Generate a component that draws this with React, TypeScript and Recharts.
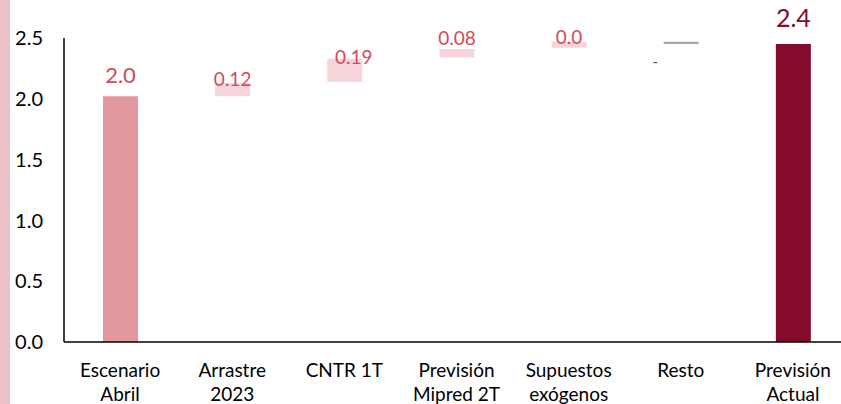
import React from "react"
import { Bar, BarChart, Cell, LabelList, XAxis, YAxis } from "recharts"

const categories = [
  "Escenario\nAbril",
  "Arrastre\n2023",
  "CNTR 1T",
  "Previsión\nMipred 2T",
  "Supuestos\nexógenos",
  "Resto",
  "Previsión\nActual"
]

// each bar floats from low to high (waterfall)
const lows = [0, 2.02, 2.14, 2.34, 2.42, 2.45, 0]
const highs = [2.02, 2.13, 2.33, 2.41, 2.47, 2.47, 2.45]
const valueLabels = ["2.0", "0.12", "0.19", "0.08", "0.0", "-", "2.4"]
const yTicks = [0, 0.5, 1, 1.5, 2, 2.5]

const fills = ["#E3989F", "#F5D4DA", "#F5D4DA", "#F5D4DA", "#F5D4DA", "#A6A6A6", "#860A2B"]

// hand placed label tweaks (like the original excel file)
const labelStyle = [
  { dx: 0, dy: -13, color: "#D44A5B", size: 22 },
  { dx: 0, dy: 3, color: "#D44A5B", size: 19 },
  { dx: 9, dy: 5, color: "#D44A5B", size: 19 },
  { dx: 0, dy: -4, color: "#D44A5B", size: 19 },
  { dx: 0, dy: 2, color: "#D44A5B", size: 19 },
  { dx: -26, dy: 25, color: "#44546A", size: 15 },
  { dx: 0, dy: -17, color: "#860A2B", size: 25 }
]

const data = categories.map((name, i) => ({
  name,
  range: [lows[i], highs[i]]
}))

const FONT = "Lato, 'Open Sans', sans-serif"

function ValueLabel(props: any) {
  const { x, y, width, height, index } = props
  const s = labelStyle[index]
  const top = Math.min(y, y + height)
  return (
    <text
      x={x + width / 2 + s.dx}
      y={top + s.dy}
      textAnchor="middle"
      fill={s.color}
      fontSize={s.size}
      fontFamily={FONT}>
      {valueLabels[index]}
    </text>
  )
}

function CategoryTick(props: any) {
  const { x, y, payload } = props
  const lines = String(payload.value).split("\n")
  return (
    <text x={x} y={y + 35} textAnchor="middle" fill="#000" fontSize={19} fontFamily={FONT}>
      {lines.map((line, i) => (
        <tspan key={i} x={x} dy={i === 0 ? 0 : 24}>
          {line}
        </tspan>
      ))}
    </text>
  )
}

export default function App() {
  return (
    <div
      style={{
        position: "fixed",
        left: 0,
        top: 0,
        width: 841,
        height: 404,
        overflow: "hidden",
        background: "#fff"
      }}>
      <div
        style={{
          position: "absolute",
          left: 0,
          top: 0,
          width: 10,
          height: 404,
          background: "#EFBFC6"
        }}
      />
      <BarChart
        width={849}
        height={404}
        data={data}
        margin={{ top: 38, right: 0, left: 0, bottom: 0 }}>
        <XAxis
          dataKey="name"
          height={62}
          tickLine={false}
          tickSize={0}
          tickMargin={0}
          axisLine={{ stroke: "#000", strokeWidth: 1.5 }}
          tick={<CategoryTick />}
          interval={0}
        />
        <YAxis
          width={64}
          domain={[0, 2.5]}
          ticks={yTicks}
          tickFormatter={(v) => Number(v).toFixed(1)}
          tickLine={false}
          tickSize={0}
          tickMargin={21}
          axisLine={{ stroke: "#000", strokeWidth: 1.5 }}
          tick={{ fill: "#000", fontSize: 20, fontFamily: FONT }}
        />
        <Bar dataKey="range" barSize={35} isAnimationActive={false}>
          {data.map((d, i) => (
            <Cell key={d.name} fill={fills[i]} />
          ))}
          <LabelList dataKey="range" content={<ValueLabel />} />
        </Bar>
      </BarChart>
    </div>
  )
}
